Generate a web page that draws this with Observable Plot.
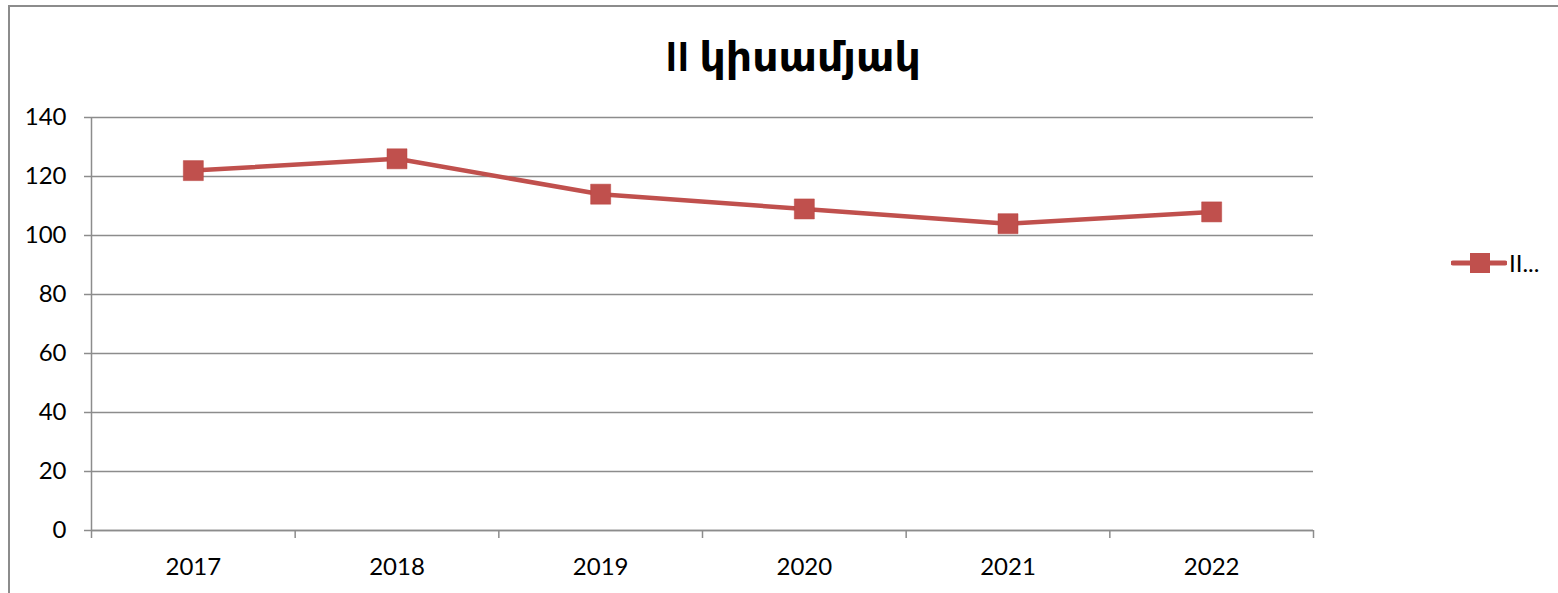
<!DOCTYPE html>
<html>
<head>
<meta charset="utf-8">
<script src="https://cdn.jsdelivr.net/npm/d3@7"></script>
<script src="https://cdn.jsdelivr.net/npm/@observablehq/plot@0.6"></script>
<style>
  html, body { margin: 0; padding: 0; background: #fff; }
  #wrap { position: relative; width: 1558px; height: 593px; overflow: hidden; font-family: Lato, "DejaVu Sans", sans-serif; }
  #frame { position: absolute; left: 8px; top: 5px; width: 1600px; height: 700px; border-left: 2px solid #8c8c8c; border-top: 2px solid #8c8c8c; }
  #title { position: absolute; left: 0; width: 1586px; top: 31px; text-align: center; font-size: 41px; font-weight: bold; color: #000; line-height: 1.2; }
  #legend { position: absolute; left: 1451px; top: 248px; display: flex; align-items: center; font-size: 24px; color: #000; }
  #chart { position: absolute; left: 0; top: 0; }
</style>
</head>
<body>
<div id="wrap">
  <div id="chart"></div>
  <div id="frame"></div>
  <div id="title"></div>
  <div id="legend"></div>
</div>
<script>
const title = "II կիսամյակ";
const seriesName = "II կիսամյակ";
const legendLabel = "II...";
const years = ["2017", "2018", "2019", "2020", "2021", "2022"];
const values = [122, 126, 114, 109, 104, 108];
const yTicks = [0, 20, 40, 60, 80, 100, 120, 140];
const lineColor = "#C0504D";

const data = years.map((year, i) => ({year, i, value: values[i]}));
const boundaries = d3.range(years.length + 1);
const centers = years.map((_, i) => i + 0.5);

const chart = Plot.plot({
  width: 1558,
  height: 593,
  marginLeft: 91,
  marginRight: 245,
  marginTop: 117,
  marginBottom: 63,
  style: {fontFamily: "Lato, 'DejaVu Sans', sans-serif", fontSize: "24px", color: "#000", background: "transparent"},
  x: {domain: [0, years.length], axis: null},
  y: {domain: [0, 140], axis: null},
  marks: [
    Plot.gridY(yTicks, {stroke: "#8c8c8c", strokeOpacity: 1, strokeWidth: 1.5}),
    Plot.axisY({ticks: yTicks, tickSize: 7, tickPadding: 18, stroke: "#8c8c8c", strokeWidth: 1.5, strokeOpacity: 1, fill: "#000", label: null, fontSize: 24}),
    Plot.ruleX([0], {stroke: "#8c8c8c", strokeWidth: 1.5}),
    Plot.ruleY([0], {stroke: "#8c8c8c", strokeWidth: 1.5}),
    Plot.axisX({ticks: boundaries, tickFormat: () => "", tickSize: 8, stroke: "#8c8c8c", strokeWidth: 1.5, strokeOpacity: 1, label: null}),
    Plot.axisX({ticks: centers, tickFormat: d => years[Math.round(d - 0.5)], tickSize: 0, tickPadding: 27, fill: "#000", label: null, fontSize: 24}),
    Plot.line(data, {x: d => d.i + 0.5, y: "value", stroke: lineColor, strokeWidth: 4.5, strokeLinejoin: "round", strokeLinecap: "round"}),
    Plot.dot(data, {x: d => d.i + 0.5, y: "value", symbol: "square", r: 11.3, fill: lineColor, stroke: "#b9433f", strokeWidth: 0.5, title: d => `${seriesName}: ${d.year} — ${d.value}`})
  ]
});
document.getElementById("chart").appendChild(chart);
document.getElementById("title").textContent = title;

const legend = document.getElementById("legend");
const sw = d3.create("svg").attr("width", 56).attr("height", 26);
sw.append("line").attr("x1", 2).attr("x2", 54).attr("y1", 13).attr("y2", 13)
  .attr("stroke", lineColor).attr("stroke-width", 5).attr("stroke-linecap", "round");
sw.append("rect").attr("x", 19).attr("y", 3).attr("width", 20).attr("height", 20).attr("fill", lineColor);
legend.appendChild(sw.node());
const lt = document.createElement("span");
lt.textContent = legendLabel;
lt.style.marginLeft = "2px";
legend.appendChild(lt);
</script>
</body>
</html>
